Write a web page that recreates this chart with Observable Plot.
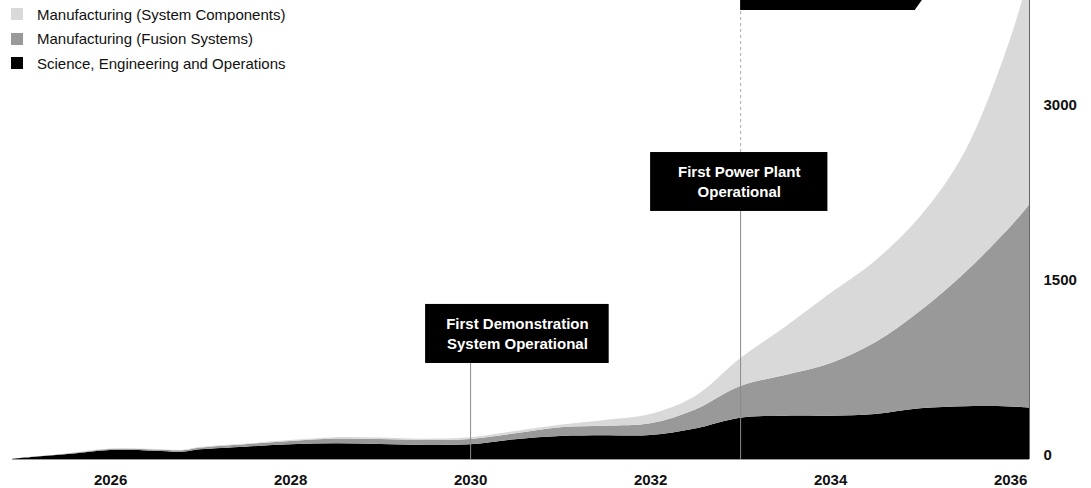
<!DOCTYPE html>
<html><head><meta charset="utf-8">
<script src="https://cdn.jsdelivr.net/npm/d3@7"></script>
<script src="https://cdn.jsdelivr.net/npm/@observablehq/plot@0.6"></script>
<style>
body{margin:0;background:#fff;font-family:"Liberation Sans",Arial,Helvetica,sans-serif;}
#wrap{position:relative;width:1091px;height:488px;overflow:hidden;}
#legend{position:absolute;left:11px;top:2px;font-size:15px;color:#111;}
.item{display:flex;align-items:center;height:24.5px;}
.sw{width:12px;height:12px;margin-right:14px;flex:none;}
</style></head><body>
<div id="wrap"><div id="chart"></div><div id="legend"></div></div>
<script>
// ---- data ----
const years      = [2024.91, 2025, 2025.5, 2026, 2026.5, 2026.8, 2027, 2027.5, 2028, 2028.5, 2029, 2029.5, 2030, 2030.5, 2031, 2031.5, 2032, 2032.5, 2033, 2033.5, 2034, 2034.5, 2035, 2035.5, 2036, 2036.21];
const science    = [0, 8, 40, 77, 71, 63, 83, 106, 126, 135, 129, 120, 126, 169, 197, 203, 205, 262, 354, 371, 371, 386, 434, 452, 450, 440];
const fusion     = [0, 1, 4, 9, 11, 12, 15, 21, 29, 41, 42, 43, 45, 51, 75, 82, 101, 163, 272, 349, 449, 614, 836, 1148, 1540, 1740];
const components = [0, 0, 2, 3, 3, 3, 4, 5, 7, 11, 14, 11, 15, 20, 22, 49, 79, 115, 237, 414, 600, 700, 810, 1040, 1610, 1970];

const seriesNames  = ["Science, Engineering and Operations", "Manufacturing (Fusion Systems)", "Manufacturing (System Components)"];
const seriesColors = ["#000000", "#999999", "#d9d9d9"];

const xTicks = [2026, 2028, 2030, 2032, 2034, 2036];
const yTicks = [0, 1500, 3000];
const xDomain = [2024.91, 2036.21];
const yDomain = [0, 3934];

// annotations
const annoYears  = [2030, 2033];
const annoLabels = ["First Demonstration\nSystem Operational", "First Power Plant\nOperational"];
const annoBoxX1  = [2029.50, 2032.00];
const annoBoxX2  = [2031.54, 2033.97];
const annoBoxY1  = [823, 2126];
const annoBoxY2  = [1329, 2631];
// cropped annotation at top (only its lower edge is visible)
const topAnnoYear = 2033;
const topAnnoX    = [2033, 2034.94, 2035.02];
const topAnnoLow  = [3849, 3849, 3934];

// ---- build tables ----
const seriesValues = [science, fusion, components];
const table = [];
seriesNames.forEach((name, i) => years.forEach((yr, j) => table.push({year: yr, value: seriesValues[i][j], series: name})));
const annos = annoYears.map((yr, i) => ({year: yr, label: annoLabels[i], x1: annoBoxX1[i], x2: annoBoxX2[i], y1: annoBoxY1[i], y2: annoBoxY2[i], cx: (annoBoxX1[i] + annoBoxX2[i]) / 2, cy: (annoBoxY1[i] + annoBoxY2[i]) / 2}));
const topAnno = topAnnoX.map((x, i) => ({x, low: topAnnoLow[i], high: yDomain[1]}));

const chart = Plot.plot({
  width: 1091,
  height: 488,
  marginLeft: 12,
  marginRight: 62,
  marginTop: 0,
  marginBottom: 29,
  style: {fontFamily: "'Liberation Sans', Arial, Helvetica, sans-serif", background: "transparent"},
  x: {domain: xDomain, axis: null},
  y: {domain: yDomain, axis: null},
  color: {domain: seriesNames, range: seriesColors},
  marks: [
    Plot.areaY(table, {x: "year", y: "value", fill: "series", z: "series", order: seriesNames, curve: "catmull-rom", clip: true}),
    Plot.ruleY([0], {stroke: "#999", strokeWidth: 1}),
    Plot.ruleX([xDomain[1]], {stroke: "#666", strokeWidth: 1}),
    Plot.ruleX(annos, {x: "year", y1: 0, y2: "y1", stroke: "#8a8a8a", strokeWidth: 1}),
    Plot.ruleX([topAnnoYear], {y1: annoBoxY2[1], y2: topAnnoLow[0], stroke: "#aaa", strokeWidth: 1, strokeDasharray: "3,3"}),
    Plot.rect(annos, {x1: "x1", x2: "x2", y1: "y1", y2: "y2", fill: "#000"}),
    Plot.text(annos, {x: "cx", y: "cy", text: "label", fill: "#fff", fontSize: 15, fontWeight: "bold", lineHeight: 1.33, textAnchor: "middle", dy: -1.5}),
    Plot.areaY(topAnno, {x: "x", y1: "low", y2: "high", fill: "#000", curve: "linear"}),
    Plot.axisX({ticks: xTicks, tickFormat: d => String(d), tickSize: 0, tickPadding: 15, fontSize: 15, fontWeight: "bold", fill: "#111", label: null}),
    Plot.axisY({anchor: "right", ticks: yTicks, tickFormat: d => String(d), tickSize: 0, tickPadding: 14, fontSize: 15, fontWeight: "bold", fill: "#111", dy: -4, label: null})
  ]
});
document.getElementById("chart").appendChild(chart);

// legend (top to bottom: components, fusion, science)
const legend = document.getElementById("legend");
[2, 1, 0].forEach(i => {
  const item = document.createElement("div");
  item.className = "item";
  const sw = document.createElement("span");
  sw.className = "sw";
  sw.style.background = seriesColors[i];
  const label = document.createElement("span");
  label.textContent = seriesNames[i];
  item.appendChild(sw);
  item.appendChild(label);
  legend.appendChild(item);
});
</script>
</body></html>
